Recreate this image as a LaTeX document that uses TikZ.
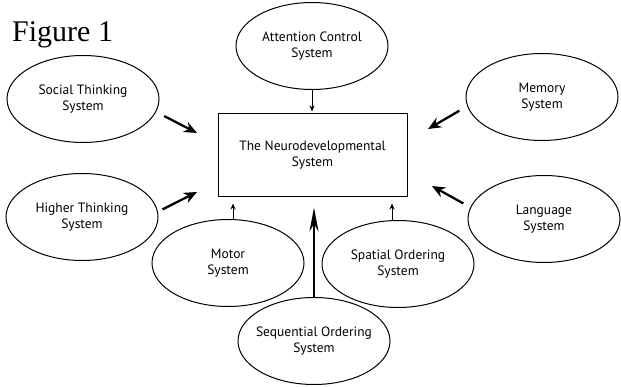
\documentclass[tikz,border=0pt]{standalone}
\usepackage{fontspec}
\setmainfont{Liberation Serif}
\setsansfont{PT Sans}
\usetikzlibrary{shapes.geometric,arrows.meta}

\tikzset{
  system/.style={draw, ellipse, line width=1pt, minimum width=152pt, minimum height=87pt,
    inner ysep=0pt, inner xsep=-8pt, align=center, font=\sffamily\fontsize{13.5}{16}\selectfont},
  hub/.style={draw, rectangle, line width=1pt, minimum width=189pt, minimum height=83pt,
    align=center, font=\sffamily\fontsize{13.5}{16}\selectfont},
  bigarrow/.style={line width=2.3pt, -{Stealth[length=13pt,width=11pt]}},
  tallarrow/.style={line width=2.3pt, -{Stealth[length=24pt,width=9pt]}},
  smallarrow/.style={line width=1pt, -{Stealth[length=6pt,width=5pt]}}
}

\begin{document}
\begin{tikzpicture}[x=1pt,y=-1pt]
  \useasboundingbox (0,0) rectangle (621,387);

  \node[anchor=base west, inner sep=0pt, font=\fontsize{30}{30}\selectfont] (title) at (12,42) {Figure 1};

  % centre
  \node[hub] (neuro) at (312.5,155.5) {The Neurodevelopmental\\System};

  % systems round the centre
  \node[system] (attention) at (312,46) {Attention Control\\System};
  \node[system] (social) at (83,99) {Social Thinking\\System};
  \node[system] (memory) at (542,97) {Memory\\System};
  \node[system] (higher) at (82,217) {Higher Thinking\\System};
  \node[system] (language) at (544,219) {Language\\System};
  \node[system] (motor) at (228,263) {Motor\\System};
  \node[system] (spatial) at (398,264) {Spatial Ordering\\System};
  \node[system] (sequential) at (314,341) {Sequential Ordering\\System};

  % arrow tips
  \coordinate (socialtip) at (197,133);
  \coordinate (highertip) at (197,192);
  \coordinate (memorytip) at (428,129);
  \coordinate (languagetip) at (432,186);

  % thick arrows
  \draw[bigarrow, shorten <=9pt] (social.-10) -- (socialtip);
  \draw[bigarrow, shorten <=5pt] (higher.4) -- (highertip);
  \draw[bigarrow, shorten <=9pt] (memory.-173) -- (memorytip);
  \draw[bigarrow, shorten <=8pt] (language.171) -- (languagetip);
  \draw[tallarrow, shorten >=10pt] (sequential.north) -- (sequential.north |- neuro.south);

  % thin arrows
  \draw[smallarrow, shorten >=2pt] (attention.south) -- (attention.south |- neuro.north);
  \draw[smallarrow, shorten >=6pt] ([xshift=5pt]motor.north) -- ([xshift=5pt]motor.north |- neuro.south);
  \draw[smallarrow, shorten >=6pt] ([xshift=-6pt]spatial.north) -- ([xshift=-6pt]spatial.north |- neuro.south);
\end{tikzpicture}
\end{document}
